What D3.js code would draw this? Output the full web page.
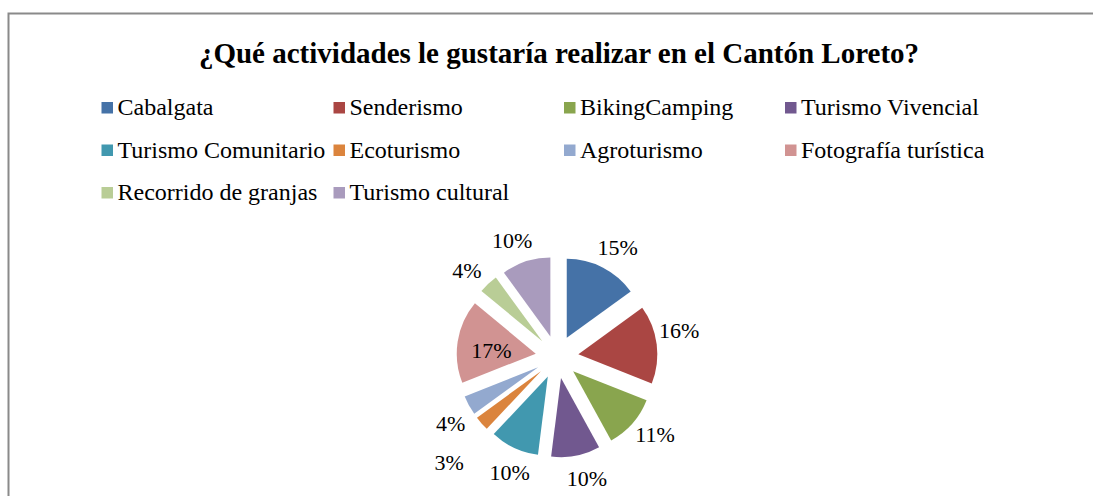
<!DOCTYPE html>
<html><head><meta charset="utf-8">
<script src="https://cdn.jsdelivr.net/npm/d3@7"></script>
<style>body{margin:0;background:#fff;}svg{display:block;}</style>
</head><body>
<svg id="chart" width="1093" height="496"></svg>
<script>
const title = "¿Qué actividades le gustaría realizar en el Cantón Loreto?";
const categories = ["Cabalgata","Senderismo","BikingCamping","Turismo Vivencial","Turismo Comunitario","Ecoturismo","Agroturismo","Fotografía turística","Recorrido de granjas","Turismo cultural"];
const values = [15,16,11,10,10,3,4,17,4,10];
const colors = ["#4572A7","#AA4643","#89A54E","#71588F","#4198AF","#DB843D","#93A9CF","#D19392","#B9CD96","#A99BBD"];

const FONT = '"Liberation Serif", "Times New Roman", serif';
const svg = d3.select("#chart");

// frame
svg.append("path").attr("d","M8.5,600V13.5H1200").attr("fill","none").attr("stroke","#8a8a8a").attr("stroke-width",2);

// title
svg.append("text").attr("x",559).attr("y",63).attr("text-anchor","middle")
  .style("font-family",FONT).style("font-weight","bold")
  .style("font-size","29px").attr("fill","#000").text(title);

// legend
const colX = [101.5,333.5,564,785];
const rowY = [102,144.5,187];
const leg = svg.append("g");
categories.forEach((c,i)=>{
  const col = i%4, row = Math.floor(i/4);
  const g = leg.append("g").attr("transform",`translate(${colX[col]},${rowY[row]})`);
  g.append("rect").attr("width",11.5).attr("height",11.5).attr("fill",colors[i]);
  g.append("text").attr("x",16).attr("y",13).style("font-family",FONT)
    .style("font-size","24px").attr("fill","#000").text(c);
});

// pie
const cx = 557, cy = 357, r = 79, explode = 21.5;
const total = d3.sum(values);
const pie = d3.pie().sort(null).value(d=>d)(values);
const arc = d3.arc().innerRadius(0).outerRadius(r);
// best-fit label placement: outside by default, a few exceptions
const labelRadius = {default:125, "Ecoturismo":151, "Fotografía turística":66};
const labelShiftDeg = {default:-3, "Cabalgata":2, "Senderismo":-5};
const pg = svg.append("g").attr("transform",`translate(${cx},${cy})`);
pie.forEach((p,i)=>{
  const mid = (p.startAngle+p.endAngle)/2;
  const dx = Math.sin(mid)*explode, dy = -Math.cos(mid)*explode;
  pg.append("path").attr("d",arc(p)).attr("fill",colors[i]).attr("transform",`translate(${dx},${dy})`);
  const lr = labelRadius[categories[i]] ?? labelRadius.default;
  const la = mid + (labelShiftDeg[categories[i]] ?? labelShiftDeg.default)*Math.PI/180;
  pg.append("text").attr("x",Math.sin(la)*lr).attr("y",-Math.cos(la)*lr).attr("dy","0.35em")
    .attr("text-anchor","middle").style("font-family",FONT)
    .style("font-size","22px").attr("fill","#000").text(Math.round(values[i]/total*100)+"%");
});
</script>
</body></html>
